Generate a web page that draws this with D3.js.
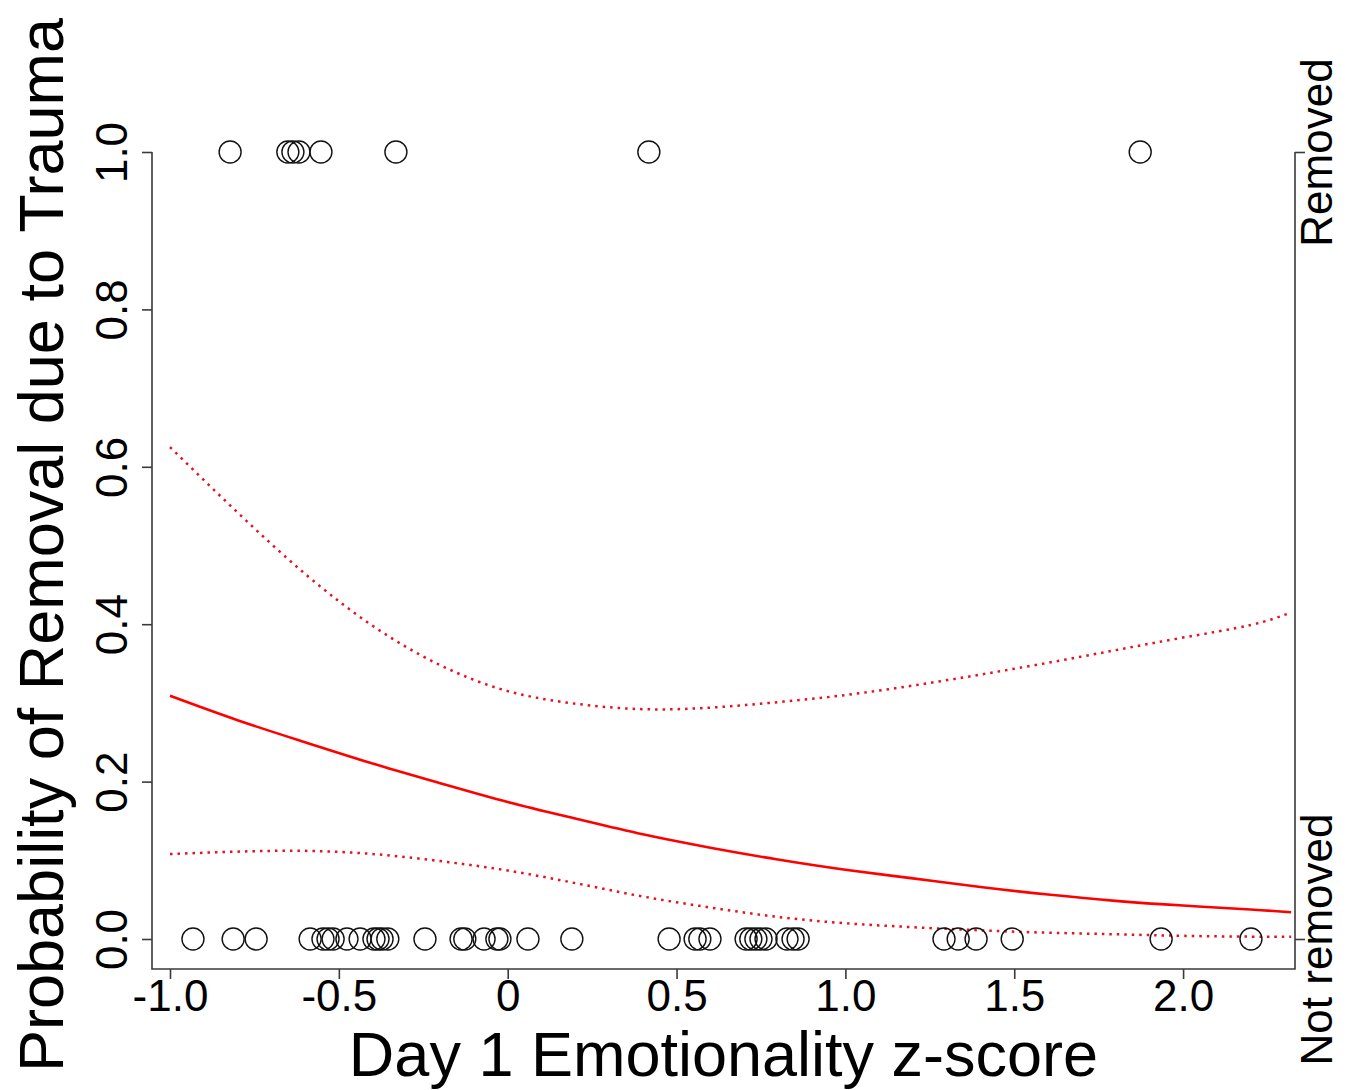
<!DOCTYPE html>
<html>
<head>
<meta charset="utf-8">
<script src="https://cdn.jsdelivr.net/npm/d3@7"></script>
<style>
  html, body { margin: 0; padding: 0; background: #fff; }
  svg { display: block; }
  text { font-family: "Liberation Sans", Arial, sans-serif; fill: #000; }
</style>
</head>
<body>
<svg id="chart" width="1353" height="1090"></svg>
<script>
// ---------------- data ----------------
const removedX = [-0.822, -0.651, -0.636, -0.618, -0.553, -0.331, 0.418, 1.873];
const notRemovedX = [-0.932, -0.813, -0.745, -0.585, -0.547, -0.532, -0.517, -0.476,
  -0.437, -0.396, -0.384, -0.372, -0.355, -0.245, -0.138, -0.127, -0.070, -0.032,
  -0.023, 0.060, 0.190, 0.478, 0.555, 0.569, 0.599, 0.706, 0.720, 0.735, 0.750,
  0.765, 0.827, 0.845, 0.860, 1.292, 1.334, 1.387, 1.494, 1.935, 2.201];

const curveX = [-1.0, -0.8, -0.6, -0.4, -0.2, 0.0, 0.2, 0.4, 0.6, 0.8, 1.0, 1.2, 1.4, 1.6, 1.8, 2.0, 2.2, 2.32];
const fitY   = [0.309, 0.278, 0.250, 0.223, 0.198, 0.174, 0.153, 0.133, 0.116, 0.101, 0.088, 0.077, 0.066, 0.0565, 0.0485, 0.0425, 0.0375, 0.034];
const upperY = [0.625, 0.542, 0.464, 0.398, 0.348, 0.315, 0.299, 0.292, 0.294, 0.301, 0.310, 0.322, 0.336, 0.351, 0.367, 0.383, 0.399, 0.415];
const lowerY = [0.108, 0.111, 0.112, 0.108, 0.099, 0.087, 0.071, 0.054, 0.040, 0.028, 0.020, 0.015, 0.011, 0.008, 0.006, 0.004, 0.003, 0.003];

const xTicks = [-1.0, -0.5, 0, 0.5, 1.0, 1.5, 2.0];
const xTickLabels = ["-1.0", "-0.5", "0", "0.5", "1.0", "1.5", "2.0"];
const yTicks = [0, 0.2, 0.4, 0.6, 0.8, 1.0];
const yTickLabels = ["0.0", "0.2", "0.4", "0.6", "0.8", "1.0"];
const rightTicks = [0, 1];
const rightTickLabels = ["Not removed", "Removed"];

const xTitle = "Day 1 Emotionality z-score";
const yTitle = "Probability of Removal due to Trauma";

// ---------------- layout ----------------
const L = 152, R = 1295, B = 969;
const svg = d3.select("#chart");

const x = d3.scaleLinear().domain([-1.0533, 2.3314]).range([L, R]);
const y = d3.scaleLinear().domain([0, 1]).range([939, 152]);

const axisColor = "#3a3a3a";
const tickFont = 44;

// frame (left, bottom, right)
svg.append("path")
  .attr("d", `M${L},${y(1)} L${L},${B} L${R},${B} L${R},${y(1)}`)
  .attr("fill", "none").attr("stroke", axisColor).attr("stroke-width", 1.6);

// bottom axis
const gx = svg.append("g").attr("transform", `translate(0,${B})`)
  .call(d3.axisBottom(x).tickValues(xTicks).tickSize(10)
    .tickFormat((d, i) => xTickLabels[i]));
gx.select(".domain").remove();
gx.selectAll(".tick line").attr("stroke", axisColor).attr("stroke-width", 1.6);
gx.selectAll(".tick text")
  .attr("y", 42).attr("dy", 0)
  .style("font-size", tickFont + "px").style("font-family", "'Liberation Sans', Arial, sans-serif")
  .attr("fill", "#000");

// left axis
const gy = svg.append("g").attr("transform", `translate(${L},0)`)
  .call(d3.axisLeft(y).tickValues(yTicks).tickSize(10)
    .tickFormat((d, i) => yTickLabels[i]));
gy.select(".domain").remove();
gy.selectAll(".tick line").attr("stroke", axisColor).attr("stroke-width", 1.6);
gy.selectAll(".tick text")
  .attr("x", null).attr("dy", null)
  .attr("transform", "translate(-25,0) rotate(-90)")
  .attr("text-anchor", "middle")
  .style("font-size", tickFont + "px").style("font-family", "'Liberation Sans', Arial, sans-serif")
  .attr("fill", "#000");

// right axis
const gr = svg.append("g").attr("transform", `translate(${R},0)`)
  .call(d3.axisRight(y).tickValues(rightTicks).tickSize(10)
    .tickFormat((d, i) => rightTickLabels[i]));
gr.select(".domain").remove();
gr.selectAll(".tick line").attr("stroke", axisColor).attr("stroke-width", 1.6);
gr.selectAll(".tick text")
  .attr("x", null).attr("dy", null)
  .attr("transform", "translate(37,0) rotate(-90)")
  .attr("text-anchor", "middle")
  .style("font-size", tickFont + "px").style("font-family", "'Liberation Sans', Arial, sans-serif")
  .attr("fill", "#000");

// titles
svg.append("text")
  .attr("x", (L + R) / 2).attr("y", 1076)
  .attr("text-anchor", "middle")
  .style("font-size", "63px")
  .text(xTitle);

svg.append("text")
  .attr("transform", `translate(63,${(121 + B) / 2}) rotate(-90)`)
  .attr("text-anchor", "middle")
  .style("font-size", "63px")
  .text(yTitle);

// curves
const line = d3.line().x(d => x(d[0])).y(d => y(d[1])).curve(d3.curveNatural);
const mk = ys => curveX.map((xv, i) => [xv, ys[i]]);

svg.append("path").datum(mk(upperY)).attr("d", line)
  .attr("fill", "none").attr("stroke", "#e8101c").attr("stroke-width", 2.5)
  .attr("stroke-dasharray", "2.5,5");
svg.append("path").datum(mk(lowerY)).attr("d", line)
  .attr("fill", "none").attr("stroke", "#e8101c").attr("stroke-width", 2.5)
  .attr("stroke-dasharray", "2.5,5");
svg.append("path").datum(mk(fitY)).attr("d", line)
  .attr("fill", "none").attr("stroke", "#f00").attr("stroke-width", 2.6);

// points
const pts = removedX.map(v => [v, 1]).concat(notRemovedX.map(v => [v, 0]));
svg.append("g").selectAll("circle").data(pts).join("circle")
  .attr("cx", d => x(d[0])).attr("cy", d => y(d[1]))
  .attr("r", 11)
  .attr("fill", "none").attr("stroke", "#111").attr("stroke-width", 1.4);
</script>
</body>
</html>
